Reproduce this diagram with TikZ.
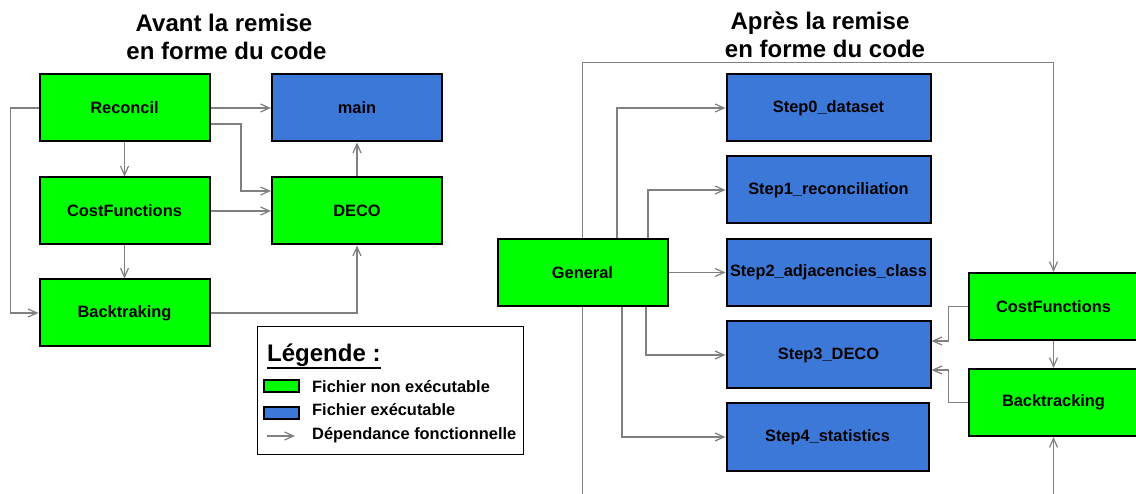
\documentclass[tikz,border=0pt]{standalone}
\usepackage{fontspec}
\setmainfont{Liberation Sans}
\usetikzlibrary{arrows.meta}
\definecolor{filegreen}{RGB}{0,255,0}
\definecolor{fileblue}{RGB}{60,120,216}
\definecolor{depgray}{RGB}{128,128,128}
\begin{document}
\begin{tikzpicture}[x=1pt,y=-1pt,
  filebox/.style={draw=black,line width=2pt,rectangle,minimum width=170pt,minimum height=67pt,
    inner sep=0pt,font=\fontsize{16.4}{19}\selectfont\bfseries},
  nonexec/.style={filebox,fill=filegreen},
  exec/.style={filebox,fill=fileblue},
  stepbox/.style={exec,minimum width=204pt},
  dep/.style={draw=depgray,line width=1.2pt,-{Straight Barb[length=9pt,width=8pt]}},
  titletext/.style={font=\fontsize{24}{28}\selectfont\bfseries,inner sep=0pt,anchor=base},
  legtext/.style={font=\fontsize{16.4}{19}\selectfont\bfseries,inner sep=0pt,anchor=base west},
  swatch/.style={draw=black,line width=2pt,minimum width=35pt,minimum height=12pt,inner sep=0pt}]
\useasboundingbox (0,0) rectangle (1136,494);
\clip (0,0) rectangle (1136,494);
\fill[white] (0,0) rectangle (1136,494);

% Titles
\node[titletext] (tl1) at (224,32) {Avant la remise};
\node[titletext] (tl2) at (226.5,60) {en forme du code};
\node[titletext] (tr1) at (820,30) {Après la remise};
\node[titletext] (tr2) at (825,58) {en forme du code};

% Before: files
\node[nonexec] (Reconcil) at (124.5,108) {Reconcil};
\node[nonexec] (CostF) at (124.5,211) {CostFunctions};
\node[nonexec] (Backtr) at (124.5,313) {Backtraking};
\node[exec] (main) at (357,108) {main};
\node[nonexec] (DECO) at (357,211) {DECO};

% Before: dependencies
\draw[dep] (Reconcil.west) -- ++(-28,0) |- (Backtr.west);
\draw[dep] (Reconcil.east) -- (main.west);
\draw[dep] ([yshift=-16pt]Reconcil.east) -- ++(30.5,0) |- ([yshift=20pt]DECO.west);
\draw[dep] (Reconcil.south) -- (CostF.north);
\draw[dep] (CostF.east) -- (DECO.west);
\draw[dep] (CostF.south) -- (Backtr.north);
\draw[dep] (Backtr.east) -| (DECO.south);
\draw[dep] (DECO.north) -- (main.south);

% Legend
\node[draw=black,line width=1.8pt,minimum width=266pt,minimum height=128pt,inner sep=0pt] (legend) at (390.5,390.5) {};
\node[font=\fontsize{24}{28}\selectfont\bfseries,inner sep=0pt,anchor=base west] (legtitle) at (267,362) {Légende :};
\draw[line width=1.8pt] ([yshift=-6pt]legtitle.base west) -- ([yshift=-6pt]legtitle.base east);
\node[swatch,fill=filegreen] (swgreen) at (281,386.5) {};
\node[swatch,fill=fileblue] (swblue) at (281,413.5) {};
\coordinate (legarrA) at (267,436);
\coordinate (legarrB) at (295,436);
\draw[dep] (legarrA) -- (legarrB);
\node[legtext] (legnon) at (312,393) {Fichier non exécutable};
\node[legtext] (legexe) at (312,416) {Fichier exécutable};
\node[legtext] (legdep) at (312,439) {Dépendance fonctionnelle};

% After: files
\node[nonexec] (General) at (582.5,272.5) {General};
\node[stepbox] (Step0) at (828.5,108) {Step0\_dataset};
\node[stepbox] (Step1) at (828.5,190) {Step1\_reconciliation};
\node[stepbox] (Step2) at (828.5,272.5) {Step2\_adjacencies\_class};
\node[stepbox] (Step3) at (828.5,355) {Step3\_DECO};
\node[stepbox,minimum width=202pt] (Step4) at (827.5,437) {Step4\_statistics};
\node[nonexec] (CostR) at (1053.5,306.5) {CostFunctions};
\node[nonexec] (BackR) at (1053.5,402.5) {Backtracking};

% After: dependencies
\draw[dep] (General.north) -- ++(0,-175.5) -| (CostR.north);
\draw[dep] ([xshift=34.5pt]General.north) |- (Step0.west);
\draw[dep] ([xshift=65.5pt]General.north) |- (Step1.west);
\draw[dep] (General.east) -- (Step2.west);
\draw[dep] ([xshift=63.5pt]General.south) |- (Step3.west);
\draw[dep] ([xshift=39.5pt]General.south) |- (Step4.west);
\draw[dep] (General.south) -- ++(0,250) -| (BackR.south);
\draw[dep] (CostR.west) -- ++(-19,0) |- ([yshift=14pt]Step3.east);
\draw[dep] (BackR.west) -- ++(-19,0) |- ([yshift=-15pt]Step3.east);
\draw[dep] (CostR.south) -- (BackR.north);
\end{tikzpicture}
\end{document}
